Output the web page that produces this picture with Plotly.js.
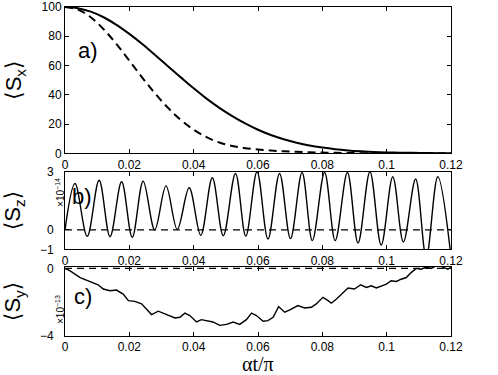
<!DOCTYPE html>
<html>
<head>
<meta charset="utf-8">
<script src="https://cdn.plot.ly/plotly-3.0.1.min.js"></script>
<style>html,body{margin:0;padding:0;background:#fff}</style>
</head>
<body>
<div id="myDiv" style="width:498px;height:375px"></div>
<script>
// shared x ticks (alpha t / pi)
var xTicks = [0, 0.02, 0.04, 0.06, 0.08, 0.1, 0.12];
var xTickText = ['0', '0.02', '0.04', '0.06', '0.08', '0.1', '0.12'];

// panel a) <Sx>
var xa = [0, 0.004, 0.008, 0.012, 0.016, 0.02, 0.024, 0.028, 0.032, 0.036, 0.04,
  0.044, 0.048, 0.052, 0.056, 0.06, 0.064, 0.068, 0.072, 0.076, 0.08,
  0.084, 0.088, 0.092, 0.096, 0.1, 0.104, 0.108, 0.112, 0.116, 0.12];
var sxSolid = [100, 99.2, 96.8, 93, 87.8, 81.6, 74.7, 67.2, 59.5, 51.9, 44.4,
  37.4, 31.1, 25.4, 20.4, 16.1, 12.5, 9.6, 7.2, 5.3, 3.9,
  2.8, 2.0, 1.4, 0.9, 0.6, 0.4, 0.3, 0.2, 0.1, 0.1];
var sxDashed = [100, 98.2, 93, 84.8, 74.7, 63.3, 51.8, 40.9, 31.1, 22.8, 16.1,
  11, 7.4, 5, 3.5, 2.6, 1.9, 1.4, 1.0, 0.7, 0.5,
  0.3, 0.2, 0.1, 0.1, 0, 0, 0, 0, 0, 0];

// panel b) <Sz> x1e-14 (peaks and troughs)
var xb = [0, 0.0031, 0.0069, 0.0106, 0.014, 0.0176, 0.0209, 0.0243, 0.0279, 0.0314,
  0.0349, 0.0386, 0.0422, 0.0458, 0.0492, 0.053, 0.0562, 0.0597, 0.0631, 0.0667,
  0.0701, 0.0737, 0.0769, 0.0807, 0.084, 0.0878, 0.0911, 0.0948, 0.0983, 0.1019,
  0.1052, 0.109, 0.1123, 0.1159, 0.12];
var szSolid = [0, 2.39, -0.33, 2.56, -0.35, 2.48, -0.38, 2.51, 0.0, 2.27,
  0.03, 2.17, -0.28, 2.69, -0.3, 2.91, -0.32, 3.0, -0.47, 2.91,
  -0.45, 2.96, -0.55, 2.96, -0.55, 2.96, -0.68, 3.0, -0.78, 2.74,
  -0.62, 2.62, -1.4, 2.74, -1.4];
var xbDash = [0, 0.12];
var szDashed = [0, 0];

// panel c) <Sy> x1e-13
var xc = [0, 0.0016, 0.0047, 0.0078, 0.0103, 0.0119, 0.014, 0.016, 0.0181, 0.0197,
  0.0217, 0.0238, 0.0254, 0.0269, 0.029, 0.0305, 0.0326, 0.0342, 0.0357, 0.0373,
  0.0388, 0.0409, 0.0424, 0.044, 0.046, 0.0481, 0.0502, 0.0523, 0.0543, 0.0564,
  0.058, 0.0595, 0.0605, 0.0616, 0.0631, 0.0647, 0.0664, 0.0683, 0.0699, 0.0724,
  0.0745, 0.0766, 0.0781, 0.0802, 0.0818, 0.0828, 0.0844, 0.0859, 0.088, 0.09,
  0.0919, 0.0937, 0.0952, 0.0968, 0.0983, 0.0999, 0.1014, 0.103, 0.1045, 0.1061,
  0.1076, 0.1092, 0.1107, 0.1123, 0.1138, 0.1159, 0.1175, 0.119, 0.12];
var sySolid = [0, -0.15, -0.54, -0.78, -0.97, -1.22, -1.32, -1.28, -1.52, -1.91,
  -1.95, -2.1, -2.4, -2.73, -2.53, -2.65, -2.79, -2.93, -2.89, -2.65,
  -2.79, -3.17, -3.03, -3.11, -3.17, -3.37, -3.31, -3.17, -3.31, -3.03,
  -2.65, -2.79, -2.93, -3.13, -3.09, -2.89, -2.26, -2.59, -2.46, -2.2,
  -2.34, -2.3, -2.1, -1.71, -1.91, -2.06, -1.81, -1.52, -1.16, -1.22,
  -0.97, -1.13, -1.03, -1.16, -1.03, -0.93, -0.73, -0.77, -0.64, -0.54,
  -0.25, 0.0, -0.05, 0.08, 0.0, 0.2, 0.08, -0.05, 0.05];
var xcDash = [0, 0.12];
var syDashed = [0, 0];

var tickFont = {family: 'Liberation Sans, Arial, sans-serif', size: 12, color: '#000'};
var titleFont = {family: 'Liberation Sans, DejaVu Sans, sans-serif', size: 22, color: '#000'};
var labelFont = {family: 'Liberation Sans, Arial', size: 22, color: '#000'};
var expFont = {family: 'Liberation Sans, Arial', size: 10, color: '#000'};

function ax(extra) {
  var base = {
    showline: true, linecolor: '#000', linewidth: 1, mirror: 'ticks',
    ticks: 'inside', ticklen: 4, tickcolor: '#000', tickwidth: 1,
    showgrid: false, zeroline: false, tickfont: tickFont,
    ticklabeloverflow: 'allow'
  };
  return Object.assign(base, extra);
}

var data = [
  {x: xa, y: sxSolid, xaxis: 'x', yaxis: 'y', mode: 'lines',
   line: {color: '#000', width: 2, shape: 'spline'}},
  {x: xa, y: sxDashed, xaxis: 'x', yaxis: 'y', mode: 'lines',
   line: {color: '#000', width: 2, dash: '8px,5px', shape: 'spline'}},
  {x: xbDash, y: szDashed, xaxis: 'x2', yaxis: 'y2', mode: 'lines',
   line: {color: '#000', width: 1.3, dash: '7px,5px'}},
  {x: xb, y: szSolid, xaxis: 'x2', yaxis: 'y2', mode: 'lines',
   line: {color: '#000', width: 1.4, shape: 'spline'}},
  {x: xcDash, y: syDashed, xaxis: 'x3', yaxis: 'y3', mode: 'lines',
   line: {color: '#000', width: 1.3, dash: '7px,5px'}},
  {x: xc, y: sySolid, xaxis: 'x3', yaxis: 'y3', mode: 'lines',
   line: {color: '#000', width: 1.4}}
];

var layout = {
  width: 498, height: 375,
  margin: {l: 65, r: 47, t: 7, b: 39},
  paper_bgcolor: '#fff', plot_bgcolor: '#fff',
  showlegend: false,
  xaxis: ax({anchor: 'y', range: [0, 0.12], tickvals: xTicks, ticktext: xTickText}),
  xaxis2: ax({anchor: 'y2', range: [0, 0.12], tickvals: xTicks, ticktext: xTickText}),
  xaxis3: ax({anchor: 'y3', range: [0, 0.12], tickvals: xTicks, ticktext: xTickText}),
  yaxis: ax({anchor: 'x', domain: [0.5553, 1], range: [0, 100], tickvals: [0, 20, 40, 60, 80, 100],
    title: {text: '⟨S<sub>x</sub>⟩', font: titleFont, standoff: 13}}),
  yaxis2: ax({anchor: 'x2', domain: [0.2635, 0.4994], range: [-1, 3], tickvals: [-1, 0, 3],
    ticklabelstandoff: 8,
    title: {text: '⟨S<sub>z</sub>⟩', font: titleFont, standoff: 14}}),
  yaxis3: ax({anchor: 'x3', domain: [0, 0.2106], range: [-4, 0.1], tickvals: [-4, 0],
    ticklabelstandoff: 8,
    title: {text: '⟨S<sub>y</sub>⟩', font: titleFont, standoff: 14}}),
  annotations: [
    // x axis title, placed as text under the bottom panel
    {xref: 'paper', yref: 'paper', x: 0.5, y: -0.125, text: 'αt/π', showarrow: false,
     xanchor: 'center', yanchor: 'bottom',
     font: {family: 'Liberation Serif, serif', size: 20, color: '#000'}},
    {xref: 'paper', yref: 'paper', x: 0.0595, y: 0.869, text: 'a)', showarrow: false,
     xanchor: 'center', yanchor: 'middle', font: labelFont},
    {xref: 'paper', yref: 'paper', x: 0.044, y: 0.425, text: 'b)', showarrow: false,
     xanchor: 'center', yanchor: 'middle', font: labelFont},
    {xref: 'paper', yref: 'paper', x: 0.0466, y: 0.119, text: 'c)', showarrow: false,
     xanchor: 'center', yanchor: 'middle', font: labelFont},
    {xref: 'paper', yref: 'paper', x: -0.013, y: 0.438, text: '×10<sup>−14</sup>', textangle: -90,
     xanchor: 'center', yanchor: 'middle', showarrow: false, font: expFont},
    {xref: 'paper', yref: 'paper', x: -0.013, y: 0.082, text: '×10<sup>−13</sup>', textangle: -90,
     xanchor: 'center', yanchor: 'middle', showarrow: false, font: expFont}
  ]
};

Plotly.newPlot('myDiv', data, layout, {displayModeBar: false, staticPlot: true});
</script>
</body>
</html>
